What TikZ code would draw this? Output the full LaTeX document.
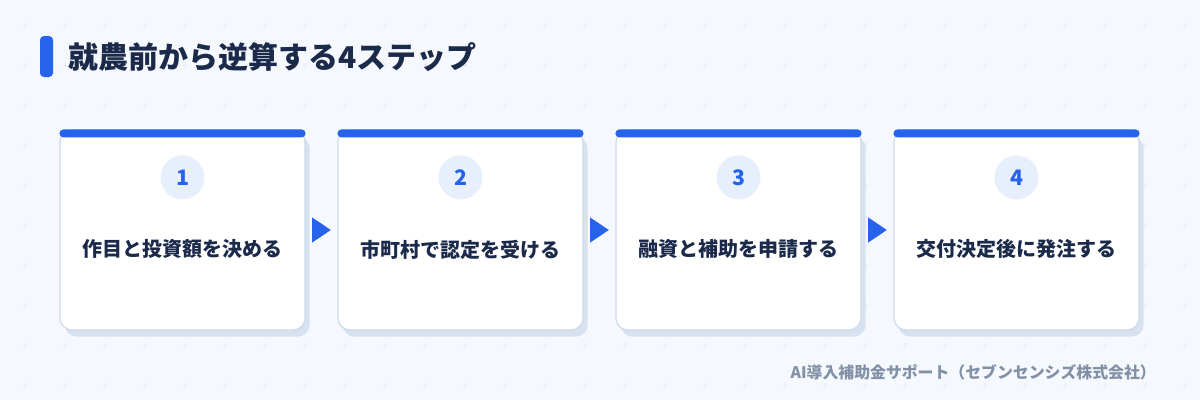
\documentclass[tikz,border=0pt]{standalone}
\usepackage{fontspec}
\setmainfont{Noto Sans CJK JP}
\usetikzlibrary{positioning,calc,shadows}

\definecolor{paper}{HTML}{F5F8FC}
\definecolor{gridgray}{HTML}{E1E7F0}
\definecolor{accent}{HTML}{2563EB}
\definecolor{ink}{HTML}{1B2A4A}
\definecolor{cardline}{HTML}{CCDAEC}
\definecolor{cardshadow}{HTML}{D7E1EF}
\definecolor{badge}{HTML}{E7EFFC}
\definecolor{footgray}{HTML}{8391A7}

\tikzset{
  plusmark/.style={draw=gridgray, line width=0.5pt},
  stepcard/.style={rectangle, rounded corners=9pt, draw=cardline, line width=0.9pt,
    fill=white, minimum width=183.75pt, minimum height=150pt,
    drop shadow={shadow xshift=3.5pt, shadow yshift=-5pt, fill=cardshadow, opacity=1}},
  numbadge/.style={circle, fill=badge, minimum size=33pt, inner sep=0pt,
    text=accent, font=\bfseries\fontsize{16}{18}\selectfont},
  steplabel/.style={text=ink, inner sep=0pt, font=\bfseries\fontsize{15}{18}\selectfont},
}

\begin{document}
\begin{tikzpicture}[x=0.75pt, y=-0.75pt, line cap=round, line join=round]

% Background -----------------------------------------
\fill[paper] (0,0) rectangle (1200,400);
\useasboundingbox (0,0) rectangle (1200,400);
\foreach \gx in {25,65,...,1185} {
  \foreach \gy in {25,65,...,385} {
    \draw[plusmark] (\gx-2,\gy) -- (\gx+2,\gy) (\gx,\gy-2) -- (\gx,\gy+2);
  }
}

% Title ----------------------------------------------
\fill[accent, rounded corners=3pt] (40,36) rectangle (53,77);
\node[anchor=west, inner sep=0pt, text=ink, font=\bfseries\fontsize{22.5}{27}\selectfont]
  (title) at (68,57) {就農前から逆算する4ステップ};

% Step cards -----------------------------------------
\foreach \i/\steptxt in {1/作目と投資額を決める, 2/市町村で認定を受ける,
                         3/融資と補助を申請する, 4/交付決定後に発注する} {
  \node[stepcard] (card\i) at ({182.5+278*(\i-1)},230) {};
  \fill[accent, rounded corners=3pt] (card\i.north west) rectangle ([yshift=-6pt]card\i.north east);
  \node[numbadge] (num\i) at ([yshift=-36pt]card\i.north) {\i};
  \node[steplabel] (label\i) at ([yshift=-90pt]card\i.north) {\steptxt};
}

% Arrows between cards
\foreach \a/\b in {1/2, 2/3, 3/4} {
  \coordinate (gap\a) at ($(card\a.east)!0.5!(card\b.west)$);
  \fill[accent] ([xshift=-7pt,yshift=9.4pt]gap\a) -- ([xshift=7pt]gap\a)
    -- ([xshift=-7pt,yshift=-9.4pt]gap\a) -- cycle;
}

% Footer ---------------------------------------------
\node[anchor=east, inner sep=0pt, text=footgray, font=\bfseries\fontsize{11.9}{14}\selectfont]
  (credit) at (1156,372) {AI導入補助金サポート（セブンセンシズ株式会社）};

\end{tikzpicture}
\end{document}
